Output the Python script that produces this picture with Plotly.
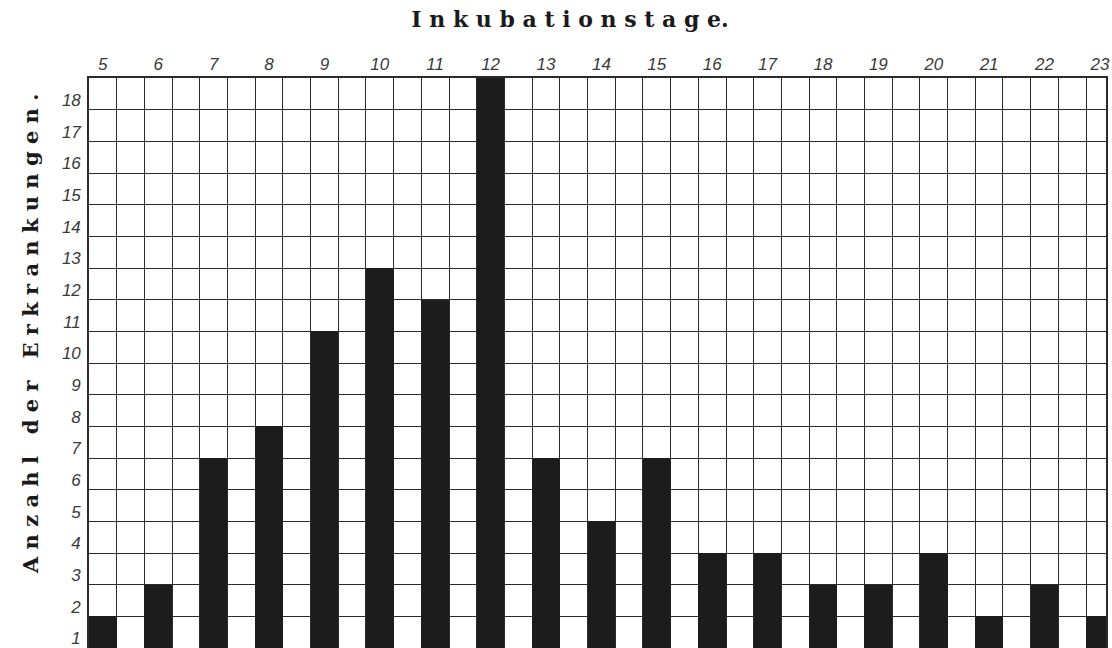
import numpy as np
import plotly.graph_objects as go

# Data
days = [5, 6, 7, 8, 9, 10, 11, 12, 13, 14, 15, 16, 17, 18, 19, 20, 21, 22, 23]
cases = [1, 2, 6, 7, 10, 12, 11, 18, 6, 4, 6, 3, 3, 2, 2, 3, 1, 2, 1]
count_labels = list(range(1, 19))

title_text = "I n k u b a t i o n s t a g e."
ytitle_text = "A n z a h l \u00a0 d e r \u00a0 E r k r a n k u n g e n ."

ink = "#2b2b2b"
tick_font = dict(family="Liberation Sans", size=17, color="#3a3a3a", style="italic")

fig = go.Figure()
fig.add_trace(go.Bar(
    x=days, y=cases, width=0.5,
    marker=dict(color="#1c1c1c", line=dict(width=0)),
    hoverinfo="x+y", showlegend=False,
))

x_lo = days[0] - 0.25
x_hi = 23.11

fig.update_layout(
    width=1112, height=648,
    margin=dict(l=89, r=6, t=78, b=0, autoexpand=False),
    paper_bgcolor="white", plot_bgcolor="white",
    bargap=0,
    title=dict(
        text=title_text,
        font=dict(family="DejaVu Serif", size=22, color="#1a1a1a", weight="bold"),
        x=570 / 1112, xanchor="center", xref="container",
        y=1 - 19 / 648, yanchor="middle", yref="container",
    ),
    xaxis=dict(
        range=[x_lo, x_hi], side="top", automargin=False,
        tickmode="array", tickvals=days, ticktext=[str(d) for d in days],
        tickfont=tick_font, ticks="", ticklabelstandoff=-1,
        ticklabeloverflow="allow",
        showgrid=False, zeroline=False,
        showline=True, mirror=True, linecolor=ink, linewidth=1.6,
        minor=dict(tickmode="array",
                   tickvals=list(np.arange(x_lo + 0.5, x_hi, 0.5)),
                   showgrid=True, gridcolor=ink, gridwidth=1.4, ticks=""),
        fixedrange=True,
    ),
    yaxis=dict(
        range=[0, 18], automargin=False,
        tickmode="array", tickvals=[k - 0.7 for k in count_labels],
        ticktext=[str(k) for k in count_labels],
        tickfont=tick_font, ticks="", ticklabelstandoff=3,
        ticklabeloverflow="allow",
        showgrid=False, zeroline=False,
        showline=True, mirror=True, linecolor=ink, linewidth=1.6,
        minor=dict(tickmode="array", tickvals=list(range(1, 18)),
                   showgrid=True, gridcolor=ink, gridwidth=1.4, ticks=""),
        fixedrange=True,
    ),
    annotations=[dict(
        text=ytitle_text, textangle=-90,
        xref="paper", yref="paper",
        x=(30 - 89) / 1017, y=(648 - 334) / 570,
        xanchor="center", yanchor="middle", showarrow=False,
        font=dict(family="DejaVu Serif", size=21, color="#1a1a1a", weight="bold"),
    )],
)

fig.write_html(
    "out.html",
    config={"displayModeBar": False},
    post_script="document.body.style.margin='0';document.body.style.overflow='hidden';",
)
